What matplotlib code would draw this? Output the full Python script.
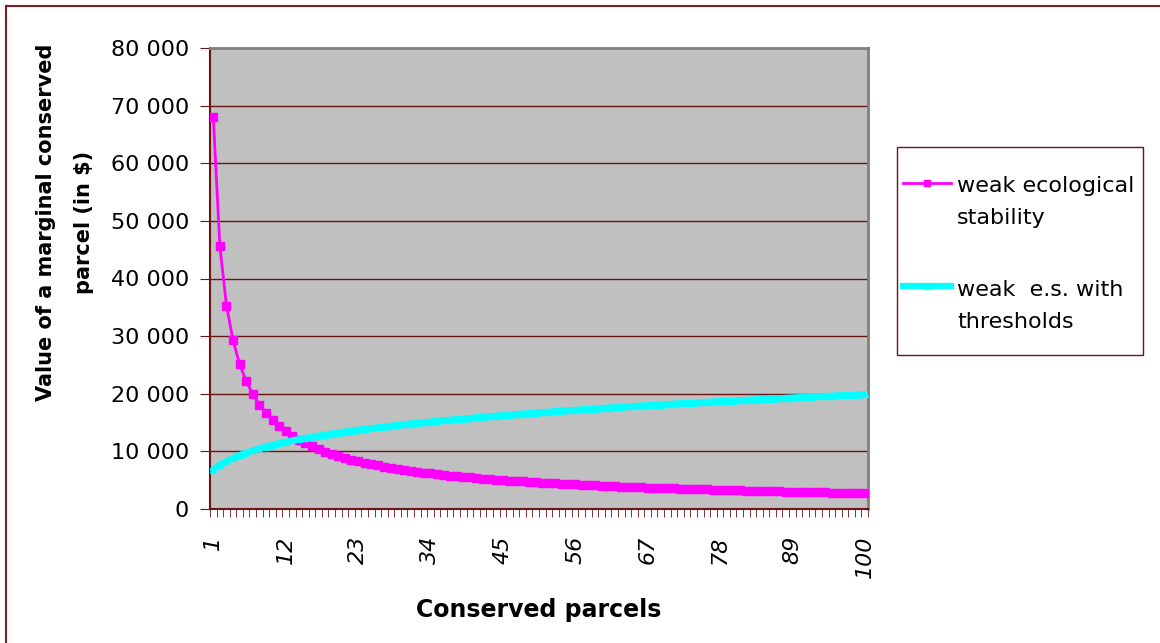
import matplotlib
matplotlib.use('Agg')
import matplotlib.pyplot as plt
from matplotlib.patches import Rectangle
from matplotlib.lines import Line2D
from matplotlib.ticker import FixedLocator, FuncFormatter

#------------------------------------------------------------------------------
# data

parcels = list(range(1, 101))

weak_stab = [68000, 45600, 35300, 29300, 25100, 22200, 19900, 18100, 16700, 15500,
             14430, 13520, 12730, 12040, 11430, 10900, 10410, 9970, 9580, 9220,
             8890, 8580, 8300, 8040, 7800, 7570, 7360, 7160, 6980, 6800,
             6630, 6480, 6330, 6190, 6060, 5930, 5810, 5700, 5590, 5480,
             5380, 5280, 5190, 5100, 5020, 4940, 4860, 4780, 4710, 4640,
             4570, 4500, 4440, 4380, 4320, 4260, 4200, 4150, 4090, 4040,
             3990, 3950, 3900, 3850, 3810, 3760, 3720, 3680, 3640, 3600,
             3560, 3530, 3490, 3460, 3420, 3390, 3350, 3320, 3290, 3260,
             3230, 3200, 3170, 3140, 3110, 3090, 3060, 3030, 3010, 2980,
             2960, 2930, 2910, 2890, 2860, 2840, 2820, 2800, 2780, 2760]

weak_thresh = [6820, 7700, 8300, 8830, 9350, 9790, 10170, 10520, 10840, 11130,
               11400, 11660, 11900, 12120, 12330, 12540, 12730, 12920, 13090, 13260,
               13430, 13590, 13740, 13890, 14030, 14170, 14310, 14440, 14570, 14690,
               14820, 14930, 15050, 15170, 15280, 15390, 15490, 15600, 15700, 15800,
               15900, 16000, 16090, 16190, 16280, 16370, 16460, 16550, 16630, 16720,
               16800, 16880, 16970, 17050, 17120, 17200, 17280, 17360, 17430, 17500,
               17580, 17650, 17720, 17790, 17860, 17930, 18000, 18070, 18130, 18200,
               18270, 18330, 18390, 18460, 18520, 18580, 18640, 18700, 18760, 18820,
               18880, 18940, 19000, 19060, 19110, 19170, 19230, 19280, 19340, 19390,
               19450, 19500, 19550, 19610, 19660, 19710, 19760, 19820, 19860, 19920]

xlabels = [1, 12, 23, 34, 45, 56, 67, 78, 89, 100]
yticks = [0, 10000, 20000, 30000, 40000, 50000, 60000, 70000, 80000]

series_names = [['weak ecological', 'stability'], ['weak  e.s. with', 'thresholds']]

#------------------------------------------------------------------------------

W, H = 1160, 643
red = '#6b1414'
magenta = '#ff00ff'
cyan = '#00ffff'

def fx(px):
    return px / W

def fy(py):
    return 1 - py / H

fig = plt.figure(figsize=(11.6, 6.43), dpi=100)
ax = fig.add_axes([fx(210), fy(509), 658/W, 461/H])
ax.set_facecolor('#c0c0c0')

ax.plot(parcels, weak_stab, color=magenta, lw=2, marker='s', ms=5.5,
        mec=magenta, zorder=3)
ax.plot(parcels, weak_thresh, color=cyan, lw=4.5, marker='^', ms=5,
        mec=cyan, zorder=3)

ax.set_xlim(0.5, 100.5)
ax.set_ylim(0, 80000)

ax.set_yticks(yticks)
ax.yaxis.set_major_formatter(FuncFormatter(lambda v, p: f"{v:,.0f}".replace(',', ' ')))
ax.yaxis.grid(True, color=red, lw=1)
ax.set_axisbelow(True)
ax.tick_params(axis='y', direction='out', length=7, color=red, labelsize=16, pad=8)

ax.xaxis.set_major_locator(FixedLocator(xlabels))
ax.xaxis.set_minor_locator(FixedLocator([i + 0.5 for i in range(0, 101)]))
ax.tick_params(axis='x', which='major', length=0, labelsize=16, pad=19)
ax.tick_params(axis='x', which='minor', direction='out', length=6, color=red)
for lab in ax.get_xticklabels():
    lab.set_rotation(90)
    lab.set_style('italic')
    lab.set_va('top')
    lab.set_ha('center')

for s in ['left', 'bottom']:
    ax.spines[s].set_color(red)
    ax.spines[s].set_linewidth(1.5)
for s in ['top', 'right']:
    ax.spines[s].set_color('#808080')
    ax.spines[s].set_linewidth(2)

ax.set_xlabel('Conserved parcels', fontsize=17, fontweight='bold')
ax.xaxis.set_label_coords(0.5, -0.193)

fig.text(fx(65), fy(222), 'Value of a marginal conserved\nparcel (in $)', rotation=90,
         fontsize=15, fontweight='bold', ha='center', va='center',
         multialignment='center', linespacing=2.15)

#------------------------------------------------------------------------------
# legend drawn by hand so the handle sits on the first text line

fig.patches.append(Rectangle((fx(897), fy(355)), 246/W, 208/H, transform=fig.transFigure,
                             fill=False, edgecolor=red, lw=1))

handle_y = [183, 286]
base_y = [[192, 224], [296, 328]]
styles = [dict(color=magenta, lw=2, marker='s', ms=5, mec=magenta),
          dict(color=cyan, lw=4.5, marker='^', ms=4, mec=cyan)]

for names, hy, by, st in zip(series_names, handle_y, base_y, styles):
    fig.add_artist(Line2D([fx(903), fx(927), fx(951)], [fy(hy)] * 3,
                          transform=fig.transFigure, markevery=[1], **st))
    for name, b in zip(names, by):
        fig.text(fx(957), fy(b), name, fontsize=16, ha='left', va='baseline')

# outer chart border (only top and left fall inside the picture)
fig.add_artist(Line2D([fx(6), 1], [fy(6), fy(6)], transform=fig.transFigure,
                      color='#7a2020', lw=1.5))
fig.add_artist(Line2D([fx(6), fx(6)], [fy(6), 0], transform=fig.transFigure,
                      color='#7a2020', lw=1.5))

fig.savefig('out.png', dpi=100)
